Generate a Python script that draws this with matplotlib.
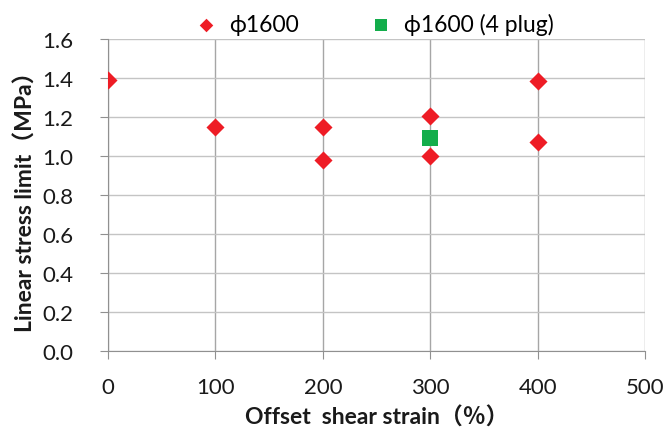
import matplotlib
matplotlib.use("Agg")
import matplotlib.pyplot as plt

plt.rcParams['font.family'] = ['Lato', 'Noto Sans CJK JP', 'DejaVu Sans']

# data
x_main = [0, 100, 200, 200, 300, 300, 400, 400]
y_main = [1.39, 1.15, 1.15, 0.98, 1.205, 1.00, 1.385, 1.07]
x_plug = [300]
y_plug = [1.09]
label_main = "ϕ1600"
label_plug = "ϕ1600 (4 plug)"
xticks = [0, 100, 200, 300, 400, 500]
yticks = [0.0, 0.2, 0.4, 0.6, 0.8, 1.0, 1.2, 1.4, 1.6]

fig = plt.figure(figsize=(6.65, 4.39), dpi=100)
ax = fig.add_axes([0.1624, 0.198, 0.8076, 0.711])

ax.scatter(x_main, y_main, marker='D', s=9.2**2, color='#EE1C25', zorder=3,
           label=label_main, linewidths=0)
ax.scatter(x_plug, y_plug, marker='s', s=11**2, color='#13AD4B', zorder=3,
           label=label_plug, linewidths=0)

ax.set_xlim(0, 500)
ax.set_ylim(0, 1.6)
ax.set_xticks(xticks)
ax.set_yticks(yticks)
ax.set_yticklabels([f"{v:.1f}" for v in yticks])
ax.xaxis.grid(True, color='#a6a6a6', linewidth=1.0)
ax.yaxis.grid(True, color='#c4c4c4', linewidth=1.0)
ax.set_axisbelow(True)
for s in ['top', 'right']:
    ax.spines[s].set_visible(False)
for s in ['left', 'bottom']:
    ax.spines[s].set_color('#909090')
ax.tick_params(axis='both', direction='out', length=6, color='#909090',
               labelsize=16, labelcolor='#1a1a1a')
ax.tick_params(axis='y', pad=19)
ax.tick_params(axis='x', pad=13)

ax.set_xlabel("Offset  shear strain（％）", fontsize=16.5, fontweight='bold',
              labelpad=6, color='#1a1a1a')
ax.set_ylabel("Linear stress limit（MPa）", fontsize=16.5, fontweight='bold',
              labelpad=4, color='#1a1a1a')

ax.legend(loc='upper center', bbox_to_anchor=(0.485, 1.15), ncol=2, frameon=False,
          fontsize=16.5, handletextpad=0.0, columnspacing=2.6, markerscale=0.75)

fig.savefig("out.png", dpi=100)
